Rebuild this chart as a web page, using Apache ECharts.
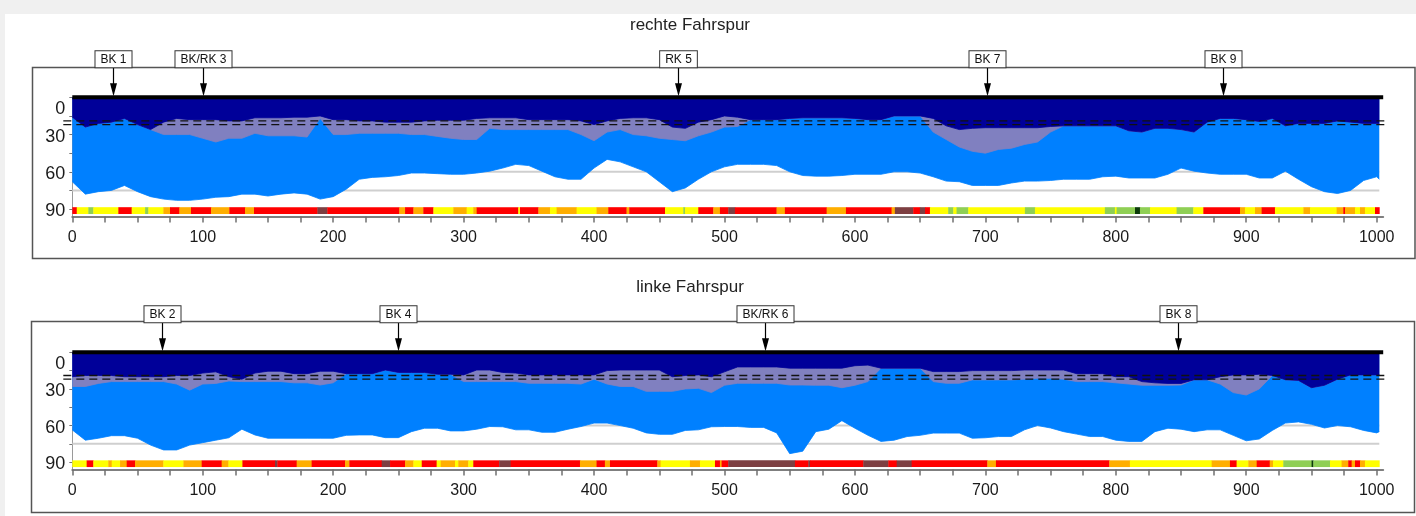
<!DOCTYPE html>
<html>
<head>
<meta charset="utf-8">
<title>Fahrspur</title>
<script src="https://cdn.jsdelivr.net/npm/echarts@6/dist/echarts.min.js"></script>
<style>
html, body { margin: 0; padding: 0; background: #f0f0f0; }
#main { width: 1416px; height: 516px; }
</style>
</head>
<body>
<div id="main"></div>
<script>
// Stationen (m) der Messpunkte
var stations = [
  0, 10, 20, 30, 40, 50, 60, 70, 80, 90,
  100, 110, 120, 130, 140, 150, 160, 170, 180, 190,
  200, 210, 220, 230, 240, 250, 260, 270, 280, 290,
  300, 310, 320, 330, 340, 350, 360, 370, 380, 390,
  400, 410, 420, 430, 440, 450, 460, 470, 480, 490,
  500, 510, 520, 530, 540, 550, 560, 570, 580, 590,
  600, 610, 620, 630, 640, 650, 660, 670, 680, 690,
  700, 710, 720, 730, 740, 750, 760, 770, 780, 790,
  800, 810, 820, 830, 840, 850, 860, 870, 880, 890,
  900, 910, 920, 930, 940, 950, 960, 970, 980, 990,
  1000, 1002
];

// rechte Fahrspur: Unterkante der Schichten (cm)
var rechteDeck = [
  16, 24, 21, 20, 17, 22, 26, 20, 17, 18,
  18, 18, 19, 19, 16.5, 16.5, 16.5, 16, 16, 15,
  18, 18, 19, 19, 20, 20, 20, 19, 18.5, 18.5,
  18.5, 17, 16.5, 16.5, 16.5, 18, 18, 18, 18, 19,
  22, 19, 17, 16.5, 16.5, 18, 24, 25, 20, 18,
  15, 16, 18, 18, 18, 17, 16.5, 16.5, 16.5, 16.5,
  17, 18, 18, 15, 15, 15, 17, 23, 26, 25,
  24.5, 24.5, 24.5, 24.5, 24.5, 23.5, 23, 23, 23, 23,
  23, 27, 28, 25, 25, 26, 28, 20, 17, 17,
  18, 19.5, 17, 23, 21, 21, 21, 19, 20, 21,
  21, 21
];
var rechteBinder = [
  16, 24, 21, 20, 17, 22, 26, 30, 30, 30,
  33, 36, 33, 33, 29, 31, 31, 31, 32, 17,
  30, 30, 29, 29, 29, 29, 30, 30, 31.5, 33,
  34, 34, 25, 26, 26, 26, 26, 26, 26, 30,
  35, 28, 26, 30, 31, 33, 34, 35, 31, 28,
  24, 23.5, 18, 18, 18, 17, 16.5, 16.5, 16.5, 16.5,
  17, 18, 18, 15, 15, 15, 28, 34, 40, 43.5,
  45, 42, 41, 38, 36, 28, 23, 23, 23, 23,
  23, 27, 28, 25, 25, 26, 28, 20, 17, 17,
  18, 19.5, 17, 23, 21, 21, 21, 19, 20, 21,
  21, 21
];
var rechteTrag = [
  68, 78, 76, 75, 71, 76, 80, 82, 83, 83,
  82, 80.5, 80, 78, 78, 79.5, 78, 77, 78, 82,
  80, 74, 66, 64.5, 64, 63, 61, 61, 61.5, 62,
  62, 61, 59.5, 57, 54, 55, 59.5, 64, 66, 66,
  57, 50, 52, 56, 60, 68, 76, 73, 66, 60,
  56, 54, 54, 54, 55, 60, 63, 63.5, 63.5, 63,
  62, 62, 62, 60, 60, 61, 64, 67.5, 68, 71,
  71, 71, 69, 67.5, 67.5, 67, 66, 66, 66, 64,
  63.5, 65, 65, 65, 62, 57, 59.5, 61, 62, 62,
  62, 65, 65, 59.5, 66, 72, 76, 77.5, 75, 67,
  64, 66
];

// linke Fahrspur
var linkeDeck = [
  20, 19, 19, 19, 20, 20, 20, 20, 19, 19,
  17, 16, 20, 22, 17, 15.5, 15.5, 17.5, 17.5, 15.5,
  15.5, 17.5, 17.5, 17.5, 14.5, 16.5, 16.5, 16.5, 18, 18,
  18.5, 14.5, 14.5, 16.5, 17, 18.5, 18.5, 18.5, 18.5, 18.5,
  18.5, 15, 14.5, 14.5, 14.5, 14.5, 20, 19, 18.5, 20,
  16, 12, 12, 12, 12, 13, 13, 13, 13, 13,
  11, 10.5, 13, 13, 13, 13, 15.8, 15.8, 15.8, 15,
  15, 15, 15, 14.5, 14.5, 14.5, 14.5, 17.5, 17.5, 17.5,
  20, 20, 24, 25, 25.5, 25.5, 22.5, 22.5, 20, 18.5,
  18.5, 18, 19, 22.5, 23, 29, 27, 22, 18.5, 18.5,
  18.5, 18.5
];
var linkeBinder = [
  28, 28, 25.5, 24, 24, 24, 24, 24, 26, 31,
  26, 25.5, 23.5, 24, 24, 24, 24, 25, 25, 26.8,
  25, 17.5, 17.5, 17.5, 14.5, 16.5, 16.5, 16.5, 18, 18,
  24, 24, 24, 24, 24, 25.4, 25.4, 25.4, 25.4, 26,
  22, 26, 28, 28, 32, 32, 32, 30, 29.5, 33,
  27, 25.4, 25.4, 25.4, 25.4, 26.8, 26.8, 27, 27, 29,
  27, 24, 13, 13, 13, 13, 24, 25.4, 25.4, 22.6,
  22.6, 22.6, 22.6, 22, 21.3, 21.3, 22, 24, 24, 24,
  25, 26, 27, 27, 27, 26.8, 22.5, 22.5, 26, 33,
  35, 30, 19, 22.5, 23, 29, 27, 22, 18.5, 18.5,
  18.5, 18.5
];
var linkeTrag = [
  63.6, 72, 70.4, 68.3, 68.3, 70.4, 76, 80, 80, 76,
  74, 72, 70, 63, 67.7, 70.4, 70.4, 70.4, 70.4, 70.4,
  70.4, 68, 67.7, 67.7, 69.9, 69.9, 65, 62.2, 62.2, 64.4,
  64.4, 63, 60.8, 61, 63.5, 63.5, 65.5, 65.5, 63, 60.8,
  58, 58, 60, 62.2, 66, 67.2, 67.2, 64, 63.5, 61,
  60.8, 60.8, 61.5, 61.5, 66, 83, 81, 65, 63, 56,
  62.2, 68, 73, 72, 69, 68, 66.2, 66.2, 66.2, 70.4,
  70, 69, 69, 63.5, 60, 62, 65, 67, 69, 69,
  72, 73, 73, 65, 62.2, 63, 65, 63.5, 63.5, 68,
  72.5, 71, 64, 58, 57, 59, 62, 60, 61, 64,
  66, 65
];

// Zustandsklassen-Streifen: [von, bis, Klasse]
var rechteStreifen = [
  [0, 3.4, 'R'], [3.4, 12.3, 'Y'], [12.3, 16.1, 'G'], [16.1, 35.3, 'Y'], [35.3, 45.5, 'R'],
  [45.5, 55.8, 'Y'], [55.8, 58.3, 'G'], [58.3, 69.8, 'Y'], [69.8, 74.9, 'O'], [74.9, 82.1, 'R'],
  [82.1, 91, 'O'], [91, 106.4, 'R'], [106.4, 120.4, 'O'], [120.4, 132.4, 'R'], [132.4, 139.3, 'O'],
  [139.3, 187.9, 'R'], [187.9, 195.5, 'B'], [195.5, 250.7, 'R'], [250.7, 255.1, 'O'], [255.1, 261.5, 'R'],
  [261.5, 269.1, 'O'], [269.1, 276.8, 'R'], [276.8, 292.1, 'Y'], [292.1, 302.3, 'O'], [302.3, 307.4, 'Y'],
  [307.4, 310, 'O'], [310, 341.9, 'R'], [341.9, 343.2, 'Y'], [343.2, 357.3, 'R'], [357.3, 366.2, 'O'],
  [366.2, 371.3, 'Y'], [371.3, 386.6, 'O'], [386.6, 401.9, 'Y'], [401.9, 410.9, 'O'], [410.9, 424.9, 'R'],
  [424.9, 427, 'O'], [427, 454.4, 'R'], [454.4, 468.4, 'Y'], [468.4, 469.7, 'G'], [469.7, 479.9, 'Y'],
  [479.9, 491.4, 'R'], [491.4, 496.5, 'O'], [496.5, 502.9, 'R'], [502.9, 508, 'B'], [508, 539.9, 'R'],
  [539.9, 546.3, 'O'], [546.3, 578.3, 'R'], [578.3, 593.1, 'O'], [593.1, 628.1, 'R'], [628.1, 630.6, 'O'],
  [630.6, 644.7, 'B'], [644.7, 649.8, 'R'], [649.8, 653.7, 'B'], [653.7, 657.5, 'R'], [657.5, 671.5, 'Y'],
  [671.5, 675.4, 'G'], [675.4, 677.9, 'Y'], [677.9, 686.9, 'G'], [686.9, 730.3, 'Y'], [730.3, 738, 'G'],
  [738, 791.6, 'Y'], [791.6, 799.3, 'G'], [799.3, 800.6, 'Y'], [800.6, 814.7, 'G'], [814.7, 818.5, 'D'],
  [818.5, 826.2, 'G'], [826.2, 846.6, 'Y'], [846.6, 859.4, 'G'], [859.4, 867.1, 'Y'], [867.1, 895.2, 'R'],
  [895.2, 899, 'O'], [899, 906.7, 'Y'], [906.7, 911.8, 'O'], [911.8, 922, 'R'], [922, 943.8, 'Y'],
  [943.8, 948.9, 'O'], [948.9, 969.3, 'Y'], [969.3, 974.4, 'O'], [974.4, 975.7, 'R'], [975.7, 983.4, 'O'],
  [983.4, 987.2, 'Y'], [987.2, 991, 'O'], [991, 998.7, 'Y'], [998.7, 1002, 'R']
];
var linkeStreifen = [
  [0, 11, 'Y'], [11, 16.1, 'R'], [16.1, 27.6, 'Y'], [27.6, 30.2, 'O'], [30.2, 36.6, 'Y'],
  [36.6, 41.7, 'O'], [41.7, 48.1, 'R'], [48.1, 69.8, 'O'], [69.8, 85.2, 'Y'], [85.2, 99.2, 'O'],
  [99.2, 114.5, 'R'], [114.5, 119.7, 'O'], [119.7, 130.4, 'Y'], [130.4, 155.4, 'R'], [155.4, 157.2, 'B'],
  [157.2, 172, 'R'], [172, 183.5, 'O'], [183.5, 209.1, 'R'], [209.1, 212.4, 'O'], [212.4, 237.2, 'R'],
  [237.2, 243.6, 'B'], [243.6, 255.1, 'R'], [255.1, 261.5, 'O'], [261.5, 267.9, 'Y'], [267.9, 279.3, 'R'],
  [279.3, 282.4, 'Y'], [282.4, 293.4, 'O'], [293.4, 295.9, 'Y'], [295.9, 303.6, 'O'], [303.6, 307.4, 'Y'],
  [307.4, 327.3, 'R'], [327.3, 336, 'B'], [336, 389.2, 'R'], [389.2, 401.9, 'O'], [401.9, 408.3, 'R'],
  [408.3, 412.2, 'O'], [412.2, 448.5, 'R'], [448.5, 451, 'O'], [451, 473.5, 'Y'], [473.5, 481.2, 'O'],
  [481.2, 492.7, 'Y'], [492.7, 496.5, 'R'], [496.5, 497.8, 'O'], [497.8, 502.9, 'R'], [502.9, 554, 'B'],
  [554, 564.3, 'R'], [564.3, 565.5, 'B'], [565.5, 606.4, 'R'], [606.4, 625.6, 'B'], [625.6, 632, 'R'],
  [632, 643.5, 'B'], [643.5, 701.5, 'R'], [701.5, 708.1, 'O'], [708.1, 795, 'R'], [795, 810.8, 'O'],
  [810.8, 873.5, 'Y'], [873.5, 887.5, 'O'], [887.5, 892.6, 'R'], [892.6, 901.6, 'Y'], [901.6, 908, 'O'],
  [908, 918, 'R'], [918, 920.5, 'O'], [920.5, 928.4, 'Y'], [928.4, 950.1, 'G'], [950.1, 951.4, 'D'],
  [951.4, 964.2, 'G'], [964.2, 973.1, 'Y'], [973.1, 978.2, 'O'], [978.2, 980.8, 'R'], [980.8, 983.4, 'O'],
  [983.4, 987.2, 'R'], [987.2, 991, 'O'], [991, 1002, 'Y']
];

// Bohrkerne / Rammkernsondierungen
var rechteKerne = [[31, 'BK 1'], [100, 'BK/RK 3'], [464, 'RK 5'], [701, 'BK 7'], [882, 'BK 9']];
var linkeKerne = [[69, 'BK 2'], [250, 'BK 4'], [531, 'BK/RK 6'], [848, 'BK 8']];

var xLabels = [0, 100, 200, 300, 400, 500, 600, 700, 800, 900, 1000];
var xTicks = [0, 25, 50, 75, 100, 125, 150, 175, 200, 225, 250, 275, 300, 325, 350, 375, 400, 425, 450, 475,
  500, 525, 550, 575, 600, 625, 650, 675, 700, 725, 750, 775, 800, 825, 850, 875, 900, 925, 950, 975, 1000];
var yLabels = [0, 30, 60, 90];
var yTicks = [0, 15, 30, 45, 60, 75, 90];
var rasterLinien = [60, 75];
var grenzLinien = [19, 22];

var klassen = ['R', 'O', 'Y', 'G', 'B', 'D'];
var klassenFarben = ['#ff0000', '#ffae00', '#ffff00', '#8fcf55', '#7d3f42', '#0b3a0b'];

var X_MAX = 1005, X_END = 1002, STRIP_TOP = 88.5, STRIP_BOTTOM = 94;
var FONT = '"Liberation Sans", Arial, sans-serif';

var myChart = echarts.init(document.getElementById('main'));

function zip(xs, ys) {
  return xs.map(function (x, i) { return [x, ys[i]]; });
}

function hline(xEnd, color, width, dash, padL, padR) {
  return function (params, api) {
    var v = api.value(1);
    var a = api.coord([0, v]);
    var b = api.coord([xEnd, v]);
    return {
      type: 'line',
      shape: { x1: a[0] - padL, y1: a[1], x2: b[0] + padR, y2: b[1] },
      style: { stroke: color, lineWidth: width, lineDash: dash }
    };
  };
}

function area(p, werte, color, z) {
  return {
    type: 'line', xAxisIndex: p, yAxisIndex: p, z: z,
    data: zip(stations, werte),
    symbol: 'none', silent: true,
    lineStyle: { width: 0.8, color: color },
    areaStyle: { color: color, opacity: 1, origin: 'start' }
  };
}

function panel(p, deck, binder, trag, streifen, kerne) {
  return [
    {
      type: 'custom', xAxisIndex: p, yAxisIndex: p, z: 1, silent: true,
      data: rasterLinien.map(function (v) { return [0, v]; }),
      encode: { x: 0, y: 1 },
      renderItem: hline(X_END, '#cfcfcf', 2, null, 0, 0)
    },
    area(p, trag, '#0080ff', 2),
    area(p, binder, '#8080c0', 3),
    area(p, deck, '#000099', 4),
    {
      type: 'custom', xAxisIndex: p, yAxisIndex: p, z: 5, silent: true,
      data: streifen.map(function (s) { return [s[0], s[1], STRIP_TOP, STRIP_BOTTOM, klassen.indexOf(s[2])]; }),
      encode: { x: [0, 1], y: [2, 3] },
      renderItem: function (params, api) {
        var a = api.coord([api.value(0), api.value(2)]);
        var b = api.coord([api.value(1), api.value(3)]);
        return {
          type: 'rect',
          shape: { x: a[0], y: a[1], width: b[0] - a[0] + 0.4, height: b[1] - a[1] },
          style: { fill: klassenFarben[api.value(4)] }
        };
      }
    },
    {
      type: 'custom', xAxisIndex: p, yAxisIndex: p, z: 6, silent: true,
      data: grenzLinien.map(function (v) { return [0, v]; }),
      encode: { x: 0, y: 1 },
      renderItem: hline(X_MAX, '#111', 1.3, [8, 5], 9, 5)
    },
    {
      type: 'custom', xAxisIndex: p, yAxisIndex: p, z: 7, silent: true,
      data: [[0, 0]],
      encode: { x: 0, y: 1 },
      renderItem: hline(X_MAX, '#000', 4, null, 0, 0)
    },
    {
      type: 'custom', xAxisIndex: p, yAxisIndex: p, z: 8, silent: true,
      data: kerne.map(function (k) { return [k[0], 0]; }),
      encode: { x: 0, y: 1 },
      renderItem: function (params, api) {
        var pt = api.coord([api.value(0), 0]);
        var x = Math.round(pt[0]) + 0.5, top = pt[1];
        return {
          type: 'group',
          children: [
            { type: 'line', shape: { x1: x, y1: top - 30, x2: x, y2: top - 12 },
              style: { stroke: '#000', lineWidth: 1.2 } },
            { type: 'polygon', shape: { points: [[x - 3.5, top - 14], [x + 3.5, top - 14], [x, top - 1]] },
              style: { fill: '#000' } },
            { type: 'text', x: x, y: top - 30,
              style: {
                text: kerne[params.dataIndex][1], align: 'center', verticalAlign: 'bottom',
                fontSize: 12, fontFamily: FONT, fill: '#111',
                backgroundColor: '#fff', borderColor: '#333', borderWidth: 1,
                padding: [2, 5, 1, 5], lineHeight: 13
              } }
          ]
        };
      }
    }
  ];
}

function xAxis(p) {
  return {
    type: 'value', gridIndex: p, min: 0, max: X_MAX,
    axisLine: { onZero: false, lineStyle: { color: '#7f7f7f', width: 2 } },
    axisTick: { customValues: xTicks, length: 6, lineStyle: { color: '#707070', width: 1.5 } },
    axisLabel: {
      customValues: xLabels, margin: 13, fontSize: 16, fontFamily: FONT, color: '#1a1a1a',
      formatter: function (v) { return String(v); }
    },
    splitLine: { show: false }
  };
}

function yAxis(p) {
  return {
    type: 'value', gridIndex: p, inverse: true, min: 0, max: 96,
    axisLine: { show: true, lineStyle: { color: '#9a9a9a', width: 1 } },
    axisTick: { show: true, customValues: yTicks, length: 3, lineStyle: { color: '#777' } },
    axisLabel: {
      customValues: yLabels, margin: 7, fontSize: 18, fontFamily: FONT, color: '#1a1a1a',
      formatter: function (v) { return v === 0 ? '{z|0}' : '{n|' + v + '}'; },
      rich: {
        z: { padding: [24, 0, 0, 0], fontSize: 18, fontFamily: FONT, color: '#1a1a1a' },
        n: { padding: [4, 0, 0, 0], fontSize: 18, fontFamily: FONT, color: '#1a1a1a' }
      }
    },
    splitLine: { show: false }
  };
}

var option = {
  animation: false,
  backgroundColor: '#f0f0f0',
  graphic: [
    { type: 'rect', z: -1, shape: { x: 5, y: 14, width: 1411, height: 502 }, style: { fill: '#fff' } },
    { type: 'rect', z: -1, shape: { x: 32.5, y: 67.5, width: 1382.5, height: 191 },
      style: { fill: null, stroke: '#555', lineWidth: 1.5 } },
    { type: 'rect', z: -1, shape: { x: 31.5, y: 321.5, width: 1383, height: 191 },
      style: { fill: null, stroke: '#555', lineWidth: 1.5 } },
    { type: 'text', x: 690, y: 25,
      style: { text: 'rechte Fahrspur', align: 'center', verticalAlign: 'middle', fontSize: 17, fontFamily: FONT, fill: '#222' } },
    { type: 'text', x: 690, y: 287,
      style: { text: 'linke Fahrspur', align: 'center', verticalAlign: 'middle', fontSize: 17, fontFamily: FONT, fill: '#222' } }
  ],
  grid: [
    { left: 72.3, top: 97.3, width: 1310.9, height: 119.2, outerBoundsMode: 'none' },
    { left: 72.3, top: 352.3, width: 1310.9, height: 117.2, outerBoundsMode: 'none' }
  ],
  xAxis: [xAxis(0), xAxis(1)],
  yAxis: [yAxis(0), yAxis(1)],
  series: panel(0, rechteDeck, rechteBinder, rechteTrag, rechteStreifen, rechteKerne)
    .concat(panel(1, linkeDeck, linkeBinder, linkeTrag, linkeStreifen, linkeKerne))
};

myChart.setOption(option);

window.addEventListener('resize', function () {
  myChart.resize();
});
</script>
</body>
</html>
